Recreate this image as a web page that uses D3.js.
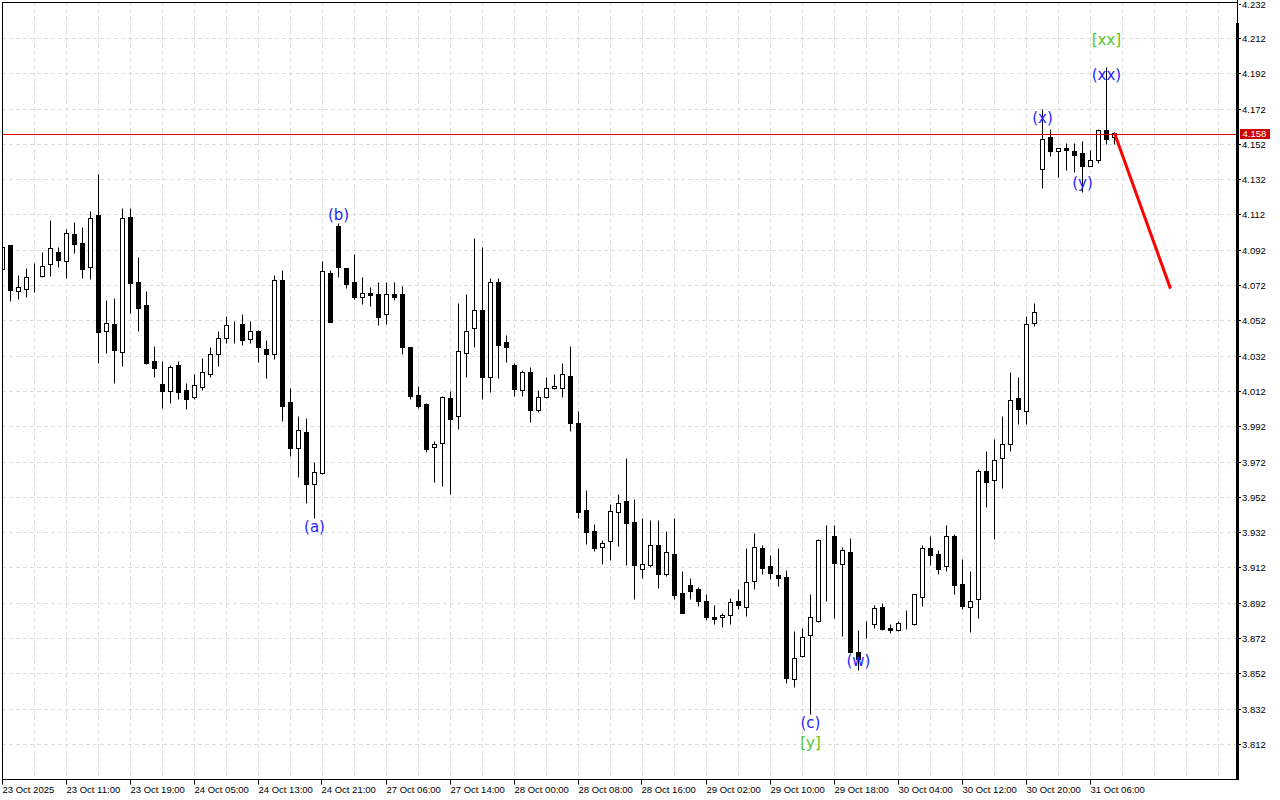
<!DOCTYPE html>
<html><head><meta charset="utf-8">
<script src="https://cdn.jsdelivr.net/npm/d3@7"></script>
<style>html,body{margin:0;padding:0;background:#fff;overflow:hidden}</style>
</head><body>
<svg id="c" width="1280" height="800"></svg>
<script>
const open = [4.0813,4.0945,4.0685,4.0696,4.0764,4.0773,4.0838,4.0907,4.0855,4.1009,
4.0957,4.0824,4.1117,4.0461,4.0499,4.0342,4.1106,4.0737,4.0607,4.0290,
4.0159,4.0118,4.0265,4.0125,4.0084,4.0145,4.0214,4.0328,4.0418,4.0501,
4.0498,4.0416,4.0460,4.0358,4.0331,4.0747,4.0056,3.9795,3.9886,3.9595,
3.9654,4.0788,4.1055,4.0815,4.0737,4.0654,4.0675,4.0668,4.0554,4.0668,
4.0668,4.0367,4.0095,4.0046,3.9804,3.9823,4.0078,3.9976,4.0333,4.0475,
4.0577,4.0197,4.0736,4.0396,4.0267,4.0124,4.0226,4.0014,4.0084,4.0135,
4.0135,4.0203,3.9937,3.9444,3.9325,3.9234,3.9268,3.9436,3.9495,3.9378,
3.9113,3.9136,3.9246,3.9085,3.9195,3.8974,3.9019,3.8996,3.8928,3.8839,
3.8838,3.8849,3.8928,3.8894,3.9046,3.9229,3.9128,3.9076,3.9065,3.8486,
3.8617,3.8736,3.8815,3.9283,3.9298,3.9138,3.9208,3.8639,3.8805,3.8800,
3.8894,3.8779,3.8764,3.8800,3.8798,3.8955,3.9229,3.9195,3.9126,3.9296,
3.9024,3.8894,3.8943,3.9665,3.9614,3.9738,3.9818,4.0080,4.0005,4.0503,
4.1376,4.1557,4.1478,4.1496,4.1478,4.1466,4.1393,4.1427,4.1597,4.1557];
const high = [4.0958,4.0947,4.0775,4.0815,4.0843,4.0907,4.1089,4.0934,4.1036,4.1077,
4.1049,4.1140,4.1349,4.0635,4.0647,4.1155,4.1155,4.0879,4.0686,4.0375,
4.0290,4.0265,4.0290,4.0163,4.0216,4.0307,4.0371,4.0461,4.0545,4.0518,
4.0556,4.0518,4.0465,4.0409,4.0779,4.0805,4.0135,3.9978,3.9965,3.9716,
4.0856,4.0805,4.1070,4.0817,4.0896,4.0764,4.0707,4.0737,4.0737,4.0737,
4.0715,4.0368,4.0146,4.0053,3.9836,4.0090,4.0118,4.0618,4.0669,4.0987,
4.0936,4.0758,4.0758,4.0435,4.0277,4.0237,4.0254,4.0124,4.0199,4.0216,
4.0277,4.0373,4.0005,3.9557,3.9366,3.9276,3.9480,3.9536,3.9738,3.9508,
3.9399,3.9387,3.9387,3.9325,3.9399,3.9100,3.9060,3.9008,3.8968,3.8906,
3.8860,3.8947,3.8996,3.9230,3.9314,3.9249,3.9191,3.9229,3.9104,3.8760,
3.8777,3.8968,3.9280,3.9361,3.9359,3.9234,3.9287,3.8766,3.8818,3.8907,
3.8917,3.8800,3.8817,3.8878,3.8970,3.9247,3.9296,3.9217,3.9359,3.9308,
3.9170,3.9098,3.9676,3.9780,3.9848,3.9978,4.0227,4.0197,4.0545,4.0617,
4.1716,4.1602,4.1497,4.1523,4.1523,4.1534,4.1483,4.1606,4.1954,4.1585];
const low = [4.0777,4.0631,4.0643,4.0654,4.0682,4.0764,4.0773,4.0824,4.0762,4.0903,
4.0762,4.0756,4.0277,4.0333,4.0163,4.0263,4.0563,4.0461,4.0273,4.0201,
4.0025,4.0053,4.0074,4.0016,4.0074,4.0125,4.0197,4.0263,4.0393,4.0393,
4.0382,4.0393,4.0286,4.0195,4.0303,3.9951,3.9753,3.9634,3.9484,3.9399,
3.9650,4.0510,4.0764,4.0705,4.0641,4.0614,4.0601,4.0495,4.0499,4.0635,
4.0331,4.0077,4.0025,3.9776,3.9606,3.9583,3.9534,3.9906,4.0201,4.0371,
4.0076,4.0116,4.0195,4.0286,4.0093,4.0093,3.9946,4.0002,4.0082,4.0134,
4.0084,3.9895,3.9402,3.9255,3.9213,3.9140,3.9162,3.9243,3.9134,3.8943,
3.9060,3.9121,3.9005,3.9073,3.8943,3.8862,3.8943,3.8903,3.8824,3.8801,
3.8784,3.8801,3.8886,3.8847,3.8996,3.9085,3.9055,3.9017,3.8467,3.8444,
3.8615,3.8288,3.8813,3.8928,3.8835,3.8733,3.8637,3.8537,3.8722,3.8775,
3.8766,3.8747,3.8758,3.8773,3.8797,3.8903,3.9134,3.9085,3.9100,3.8971,
3.8886,3.8756,3.8835,3.9464,3.9283,3.9572,3.9782,3.9934,3.9934,4.0486,
4.1272,4.1453,4.1334,4.1372,4.1362,4.1246,4.1392,4.1413,4.1521,4.1521];
const close = [4.0934,4.0694,4.0707,4.0764,4.0764,4.0826,4.0928,4.0864,4.1013,4.0954,
4.0813,4.1098,4.0456,4.0503,4.0354,4.1098,4.0733,4.0592,4.0277,4.0252,
4.0121,4.0254,4.0116,4.0076,4.0155,4.0226,4.0328,4.0420,4.0495,4.0501,
4.0407,4.0458,4.0367,4.0328,4.0747,4.0036,3.9795,3.9899,3.9595,3.9663,
4.0800,4.0512,4.0824,4.0724,4.0654,4.0673,4.0665,4.0541,4.0668,4.0654,
4.0367,4.0091,4.0036,3.9793,3.9819,4.0084,3.9963,4.0345,4.0458,4.0577,
4.0201,4.0736,4.0382,4.0371,4.0133,4.0226,4.0014,4.0084,4.0135,4.0146,
4.0214,3.9936,3.9436,3.9323,3.9232,3.9257,3.9438,3.9484,3.9374,3.9136,
3.9138,3.9246,3.9085,3.9208,3.8966,3.8864,3.8985,3.8928,3.8838,3.8826,
3.8849,3.8926,3.8906,3.9036,3.9234,3.9115,3.9087,3.9059,3.8495,3.8605,
3.8724,3.8838,3.9274,3.9283,3.9144,3.9217,3.8639,3.8603,3.8805,3.8889,
3.8773,3.8764,3.8804,3.8800,3.8968,3.9229,3.9192,3.9113,3.9296,3.9022,
3.8903,3.8928,3.9666,3.9606,3.9727,3.9818,4.0067,4.0016,4.0498,4.0566,
4.1546,4.1478,4.1495,4.1483,4.1455,4.1393,4.1427,4.1597,4.1546,4.1580];

const timeTickIndex = [0,8,16,24,32,40,48,56,64,72,80,88,96,104,112,120,128,136];
const timeTickLabels = ["23 Oct 2025","23 Oct 11:00","23 Oct 19:00","24 Oct 05:00","24 Oct 13:00",
"24 Oct 21:00","27 Oct 06:00","27 Oct 14:00","28 Oct 00:00","28 Oct 08:00","28 Oct 16:00",
"29 Oct 02:00","29 Oct 10:00","29 Oct 18:00","30 Oct 04:00","30 Oct 12:00","30 Oct 20:00","31 Oct 06:00"];
const priceTicks = [4.232,4.212,4.192,4.172,4.152,4.132,4.112,4.092,4.072,4.052,4.032,4.012,
3.992,3.972,3.952,3.932,3.912,3.892,3.872,3.852,3.832,3.812];
const currentPrice = 4.158;

const waveIdx = [39,42,101,107,130,135,138];
const wavePrice = [3.9349,4.1117,3.8239,3.8590,4.1667,4.1298,4.1910];
const waveText = ["(a)","(b)","(c)","(w)","(x)","(y)","(xx)"];
const degreeIdx = [101,138];
const degreePrice = [3.8125,4.2109];
const degreeText = ["[y]","[xx]"];
const forecastIdx = [139,146];
const forecastPrice = [4.158,4.070];

const svg = d3.select("#c");
const W = 1280, H = 800;
const plotL = 2, plotR = 1236, plotT = 2, plotB = 779;
const x = d3.scaleLinear().domain([0,154]).range([2.5,1234.5]);
const y = d3.scaleLinear().domain([3.812,4.212]).range([744,38]);
const py = v => Math.round(y(v)) + 0.5;

svg.append("rect").attr("width",W).attr("height",H).attr("fill","#fff");
svg.append("defs").append("clipPath").attr("id","clip")
  .append("rect").attr("x",plotL).attr("y",0).attr("width",plotR-plotL).attr("height",plotB);

const grid = svg.append("g").attr("stroke","#dedede").attr("stroke-dasharray","4,3").attr("stroke-width",1);
priceTicks.filter(p=>p<4.22).forEach(p=>{
  grid.append("line").attr("x1",plotL).attr("x2",plotR).attr("y1",py(p)).attr("y2",py(p));
});
d3.range(4,154,4).forEach(k=>{
  grid.append("line").attr("x1",x(k)).attr("x2",x(k)).attr("y1",plotT).attr("y2",plotB);
});

const plot = svg.append("g").attr("clip-path","url(#clip)");
const candles = plot.append("g");
open.forEach((o,i)=>{
  const c = close[i], cx = x(i);
  const bull = c >= o;
  candles.append("line").attr("x1",cx).attr("x2",cx).attr("y1",py(high[i])).attr("y2",py(low[i]))
    .attr("stroke","#000").attr("stroke-width",1);
  const t = py(Math.max(o,c)), b = py(Math.min(o,c));
  candles.append("rect").attr("x",cx-2).attr("y",t).attr("width",4).attr("height",b-t)
    .attr("fill",bull?"#fff":"#000").attr("stroke","#000").attr("stroke-width",1);
});

// current price line (drawn over candles, as in the terminal)
svg.append("line").attr("x1",plotL).attr("x2",plotR).attr("y1",py(currentPrice)+1).attr("y2",py(currentPrice)+1)
  .attr("stroke","#e00000").attr("stroke-width",1);

// forecast arrow
plot.append("path")
  .attr("d", d3.line().x(d=>x(d[0])).y(d=>y(d[1]))(forecastIdx.map((k,i)=>[k,forecastPrice[i]])))
  .attr("stroke","#ff0000").attr("stroke-width",3).attr("fill","none");

// wave labels
const lblFont = "'DejaVu Sans', Verdana, sans-serif";
waveIdx.forEach((k,i)=>{
  svg.append("text").attr("x",x(k)).attr("y",y(wavePrice[i])).attr("text-anchor","middle")
    .attr("dominant-baseline","central").attr("font-family",lblFont).attr("font-size",15)
    .attr("fill","#1e1eff").text(waveText[i]);
});
degreeIdx.forEach((k,i)=>{
  svg.append("text").attr("x",x(k)).attr("y",y(degreePrice[i])).attr("text-anchor","middle")
    .attr("dominant-baseline","central").attr("font-family",lblFont).attr("font-size",15)
    .attr("fill","#55c82a").text(degreeText[i]);
});

// frame
svg.append("line").attr("x1",plotL+0.5).attr("x2",plotL+0.5).attr("y1",plotT).attr("y2",plotB).attr("stroke","#000");
svg.append("line").attr("x1",plotL).attr("x2",plotR+2).attr("y1",plotT+0.5).attr("y2",plotT+0.5).attr("stroke","#000");
svg.append("line").attr("x1",plotL).attr("x2",plotR+2).attr("y1",plotB+0.5).attr("y2",plotB+0.5).attr("stroke","#000");
svg.append("line").attr("x1",plotR+1.5).attr("x2",plotR+1.5).attr("y1",0).attr("y2",24).attr("stroke","#000");
svg.append("rect").attr("x",plotR).attr("y",23).attr("width",3).attr("height",plotB+1-23).attr("fill","#000");

const axFont = "'Liberation Sans', Arial, sans-serif";
// y axis
const yAxis = svg.append("g").attr("transform",`translate(${plotR+3},0)`)
  .call(d3.axisRight(y).tickValues(priceTicks).tickSize(2).tickFormat(d3.format(".3f")));
yAxis.select(".domain").remove();
yAxis.selectAll(".tick").attr("transform",d=>`translate(0,${Math.max(py(d),4.5)})`);
yAxis.selectAll(".tick line").attr("stroke","#000");
yAxis.selectAll(".tick text").attr("x",3).attr("dy","0.34em").attr("font-family",axFont)
  .attr("font-size",9.5).attr("fill","#000");

// current price tag
svg.append("rect").attr("x",plotR+4).attr("y",py(currentPrice)-4.5).attr("width",30).attr("height",10).attr("fill","#cc0000");
svg.append("text").attr("x",plotR+6.5).attr("y",py(currentPrice)+3.8).attr("font-family",axFont)
  .attr("font-size",9.5).attr("fill","#fff").text(d3.format(".3f")(currentPrice));

// x axis
const xAxis = svg.append("g").attr("transform",`translate(0,${plotB+0.5})`)
  .call(d3.axisBottom(x).tickValues(timeTickIndex).tickSize(5).tickFormat((d,i)=>timeTickLabels[i]));
xAxis.select(".domain").remove();
xAxis.selectAll(".tick").attr("transform",d=>`translate(${Math.round(x(d))-0.5},0)`);
xAxis.selectAll(".tick line").attr("stroke","#000");
xAxis.selectAll(".tick text").attr("text-anchor","start").attr("x",0).attr("y",13).attr("dy","0")
  .attr("font-family",axFont).attr("font-size",9.5).attr("fill","#000");
</script>
</body></html>
